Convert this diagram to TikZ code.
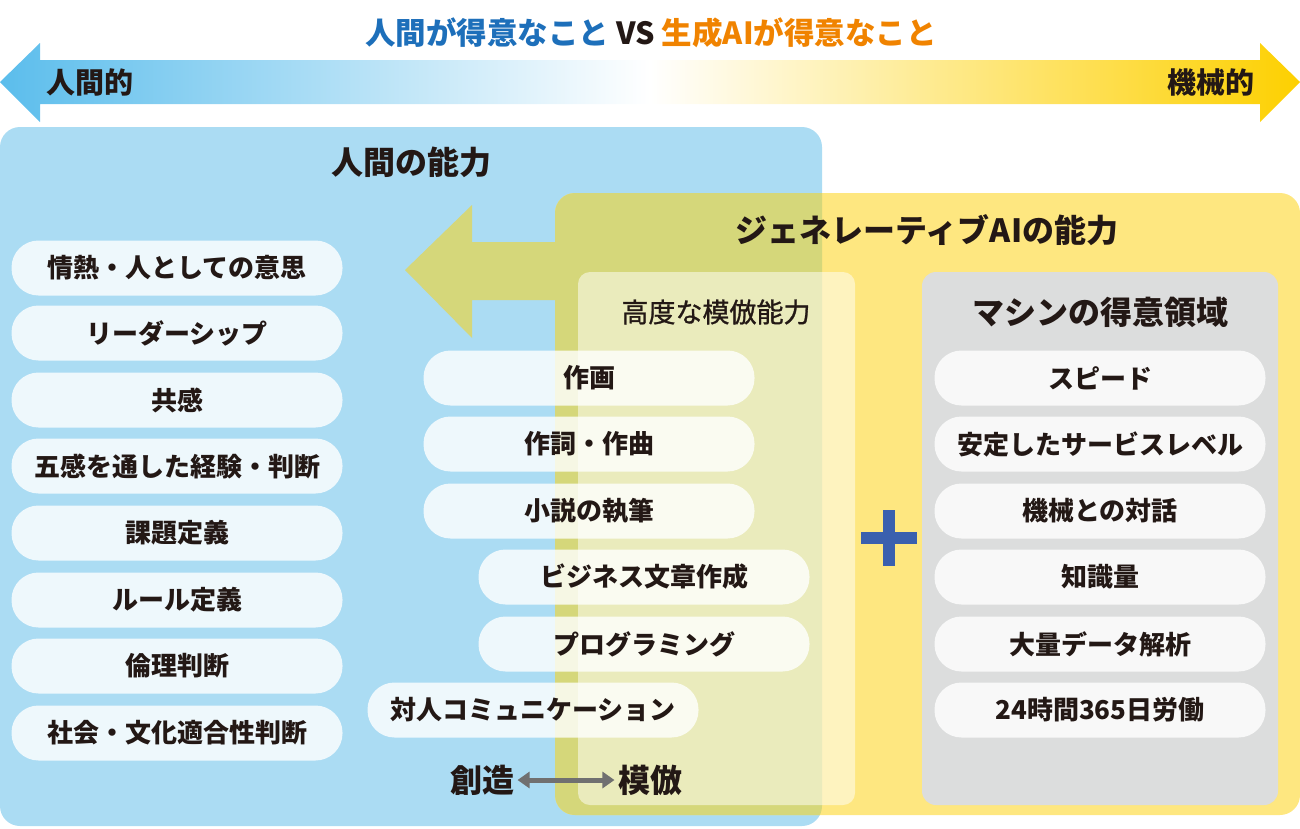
\documentclass[tikz,border=0pt]{standalone}
\usepackage{fontspec}
\setmainfont{Noto Sans CJK JP}
\newfontfamily\jpmid[FakeBold=1]{Noto Sans CJK JP}
\usetikzlibrary{arrows.meta}
\definecolor{ink}{HTML}{231815}
\definecolor{skyblue}{HTML}{ABDCF3}
\definecolor{sunyellow}{HTML}{FEE780}
\definecolor{olive}{HTML}{D5D77A}
\definecolor{machinegray}{HTML}{DCDDDD}
\definecolor{arrowblue}{HTML}{5BBDEC}
\definecolor{arrowyellow}{HTML}{FDD000}
\definecolor{titleblue}{HTML}{1D6FBA}
\definecolor{titleorange}{HTML}{F08300}
\definecolor{plusblue}{HTML}{3A60AE}
\definecolor{linkgray}{HTML}{707070}
\tikzset{
  pill/.style={rectangle, rounded corners=27pt, fill=white, fill opacity=0.8, text opacity=1,
    minimum width=331pt, minimum height=55pt, inner sep=0pt, text=ink,
    font=\fontsize{26}{29}\selectfont\bfseries},
  heading/.style={text=ink, font=\fontsize{32}{36}\selectfont\bfseries},
  endlabel/.style={text=ink, font=\fontsize{29}{32}\selectfont\bfseries},
}
\begin{document}
\begin{tikzpicture}[x=1pt,y=-1pt]
\useasboundingbox (0,0) rectangle (1300,828);
\shade[left color=arrowblue, right color=arrowyellow, middle color=white]
  (0,82) -- (40,43) -- (40,60) -- (1260,60) -- (1260,43) -- (1300,82)
  -- (1260,122) -- (1260,104) -- (40,104) -- (40,122) -- cycle;
\node[endlabel] (human) at (90,82) {人間的};
\node[endlabel] (machine) at (1211,82) {機械的};
\node[font=\fontsize{30.5}{34}\selectfont\bfseries, text=ink] (title) at (651,33)
  {\textcolor{titleblue}{人間が得意なこと} VS \textcolor{titleorange}{生成AIが得意なこと}};
\fill[skyblue, rounded corners=20pt] (0,127) rectangle (822,826);
\fill[sunyellow, rounded corners=20pt] (555,193) rectangle (1300,815);
\begin{scope}
\clip[rounded corners=20pt] (0,127) rectangle (822,826);
\fill[olive, rounded corners=20pt] (555,193) rectangle (1300,815);
\end{scope}
\fill[olive] (405,270) -- (472,205) -- (472,242) -- (560,242) -- (560,300)
  -- (472,300) -- (472,338) -- cycle;
\fill[white, fill opacity=0.5, rounded corners=12pt] (578,272) rectangle (855,805);
\fill[machinegray, rounded corners=14pt] (922,272) rectangle (1278,805);
\node[heading] (humanhead) at (411,162) {人間の能力};
\node[heading] (aihead) at (927,230) {ジェネレーティブAIの能力};
\node[text=ink, font=\fontsize{27}{30}\selectfont\jpmid] (mimichead) at (716,312) {高度な模倣能力};
\node[heading] (machinehead) at (1100,312) {マシンの得意領域};
\node[pill] (h1) at (177,268) {情熱・人としての意思};
\node[pill] (h2) at (177,333) {リーダーシップ};
\node[pill] (h3) at (177,400) {共感};
\node[pill] (h4) at (177,466) {五感を通した経験・判断};
\node[pill] (h5) at (177,533) {課題定義};
\node[pill] (h6) at (177,600) {ルール定義};
\node[pill] (h7) at (177,666) {倫理判断};
\node[pill] (h8) at (177,733) {社会・文化適合性判断};
\node[pill] (m1) at (589,378) {作画};
\node[pill] (m2) at (589,444) {作詞・作曲};
\node[pill] (m3) at (589,511) {小説の執筆};
\node[pill] (m4) at (644,577) {ビジネス文章作成};
\node[pill] (m5) at (644,644) {プログラミング};
\node[pill] (m6) at (533,710) {対人コミュニケーション};
\node[pill] (a1) at (1100,378) {スピード};
\node[pill] (a2) at (1100,444) {安定したサービスレベル};
\node[pill] (a3) at (1100,511) {機械との対話};
\node[pill] (a4) at (1100,577) {知識量};
\node[pill] (a5) at (1100,644) {大量データ解析};
\node[pill] (a6) at (1100,710) {24時間365日労働};
\fill[plusblue] (861,532) rectangle (917,544);
\fill[plusblue] (883,510) rectangle (895,566);
\node[heading] (create) at (482,780) {創造};
\node[heading] (imitate) at (650,780) {模倣};
\draw[linkgray, line width=5pt, {Triangle[length=12pt,width=16pt]}-{Triangle[length=12pt,width=16pt]}]
  (create.east) -- (imitate.west);
\end{tikzpicture}
\end{document}
